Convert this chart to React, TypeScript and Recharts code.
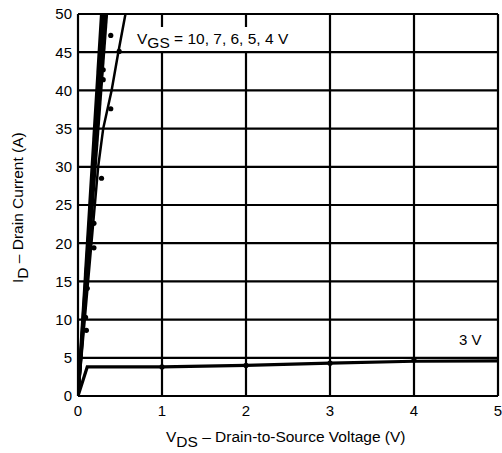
import React from 'react';
import { ComposedChart, Line, Scatter, XAxis, YAxis, CartesianGrid } from 'recharts';

// Output characteristics, ID vs VDS for each gate voltage
const VDS_TICKS = [0, 1, 2, 3, 4, 5];
const ID_TICKS = [0, 5, 10, 15, 20, 25, 30, 35, 40, 45, 50];

const vds10 = [0, 0.28];
const id10 = [0, 50];
const vds7 = [0, 0.3];
const id7 = [0, 50];
const vds6 = [0, 0.32];
const id6 = [0, 50];
const vds5 = [0, 0.34];
const id5 = [0, 50];
const vds4 = [0, 0.08, 0.16, 0.24, 0.3, 0.4, 0.48, 0.565];
const id4 = [0, 10, 20, 30, 35, 40, 45, 50];
const vds3 = [0, 0.11, 1, 2, 3, 4, 5];
const id3 = [0, 3.8, 3.8, 4.0, 4.3, 4.55, 4.6];

// measured points scattered on the curves
const dotVds = [0.39, 0.49, 0.3, 0.3, 0.39, 0.28, 0.19, 0.19, 0.11, 0.09, 0.1, 1, 2, 3, 4];
const dotId = [47.2, 45.1, 42.7, 41.4, 37.6, 28.5, 22.6, 19.4, 14.1, 10.3, 8.6, 3.8, 4.0, 4.3, 4.7];

const toPts = (xs: number[], ys: number[]) => xs.map((x, i) => ({ vds: x, id: ys[i] }));

const curves = [
  toPts(vds10, id10),
  toPts(vds7, id7),
  toPts(vds6, id6),
  toPts(vds5, id5),
  toPts(vds4, id4),
  toPts(vds3, id3),
];
const dots = toPts(dotVds, dotId);

const FONT = '"Liberation Sans", Arial, sans-serif';

export default function App() {
  return (
    <div style={{ position: 'absolute', left: 0, top: 0, background: '#fff' }}>
      <ComposedChart width={502} height={453} margin={{ top: 14, right: 4, bottom: 0, left: 0 }}>
        <CartesianGrid stroke="#000" strokeWidth={2.2} horizontalValues={ID_TICKS} verticalValues={VDS_TICKS} />
        <XAxis
          type="number"
          dataKey="vds"
          domain={[0, 5]}
          ticks={VDS_TICKS}
          allowDataOverflow
          axisLine={false}
          tickLine={false}
          tickSize={0}
          tickMargin={9}
          height={57}
          tick={{ fill: '#000', fontSize: 15, fontFamily: FONT }}
        />
        <YAxis
          type="number"
          domain={[0, 50]}
          ticks={ID_TICKS}
          allowDataOverflow
          axisLine={false}
          tickLine={false}
          tickSize={0}
          tickMargin={6}
          width={78}
          tick={{ fill: '#000', fontSize: 15, fontFamily: FONT }}
        />
        {curves.map((d, i) => (
          <Line
            key={i}
            data={d}
            dataKey="id"
            type="linear"
            stroke="#000"
            strokeWidth={i === 4 ? 2.5 : 3.2}
            dot={false}
            isAnimationActive={false}
          />
        ))}
        <Scatter data={dots} dataKey="id" fill="#000" shape={(p: any) => <circle cx={p.cx} cy={p.cy} r={2.6} fill="#000" />} isAnimationActive={false} />
        <rect x={132} y={27} width={162} height={24} fill="#fff" />
        <text x={137} y={44} fontSize={15.5} fontFamily={FONT} fill="#000">
          V<tspan dy={4}>GS</tspan><tspan dy={-4}> = 10, 7, 6, 5, 4 V</tspan>
        </text>
        <text x={459} y={345} fontSize={15} fontFamily={FONT} fill="#000">3 V</text>
        <text x={166} y={442} fontSize={15.5} fontFamily={FONT} fill="#000">
          V<tspan dy={5}>DS</tspan><tspan dy={-5}> – Drain-to-Source Voltage (V)</tspan>
        </text>
        <text x={0} y={0} fontSize={15.5} fontFamily={FONT} fill="#000" transform="translate(23,283) rotate(-90)">
          I<tspan dy={5}>D</tspan><tspan dy={-5}> – Drain Current (A)</tspan>
        </text>
      </ComposedChart>
    </div>
  );
}
